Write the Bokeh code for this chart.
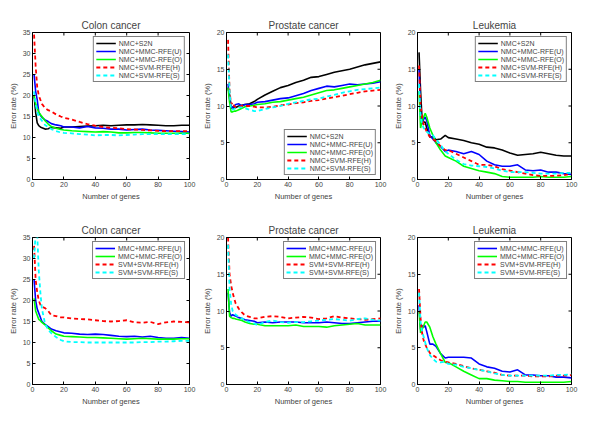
import math
from bokeh.plotting import figure
from bokeh.layouts import gridplot
from bokeh.models import Legend, LegendItem, FixedTicker, Range1d
from bokeh.embed import file_html
from bokeh.resources import INLINE

genes = [1, 2, 3, 4, 5, 6, 8, 10, 12, 15, 18, 20, 25, 30, 35, 40, 45, 50, 55, 60, 65, 70, 75, 80, 85, 90, 95, 100]
x_ticks = [0, 20, 40, 60, 80, 100]
colon_ticks = [0, 5, 10, 15, 20, 25, 30, 35]
other_ticks = [0, 5, 10, 15, 20]

# ---- Colon cancer, NMC classifier ----
colon_nmc_s2n  = [20, 16, 13.5, 12.8, 12.5, 12.3, 12.0, 12.1, 12.4, 12.3, 12.2, 12.5, 12.5, 12.6, 12.7, 12.8, 12.9, 12.8, 12.9, 13.0, 13.0, 13.1, 13.0, 12.9, 12.8, 12.8, 12.9, 12.9]
colon_nmc_mmcU = [25, 21, 19, 16, 15.3, 14.8, 14.2, 13.8, 13.3, 13.0, 12.8, 12.5, 12.5, 12.3, 12.6, 12.3, 12.2, 12.0, 12.0, 11.8, 11.9, 12.0, 11.8, 11.7, 11.6, 11.5, 11.4, 11.3]
colon_nmc_mmcO = [20, 18, 17, 16, 15.5, 15, 14, 13.2, 12.6, 12.2, 11.9, 11.8, 11.6, 11.5, 11.4, 11.3, 11.4, 11.3, 11.1, 11.1, 11.2, 11.2, 11.1, 11.0, 11.0, 11.0, 11.0, 11.0]
colon_nmc_svmH = [34.5, 27, 22, 20, 19, 18, 17, 16.5, 16.2, 15.5, 15, 14.7, 14.3, 13.7, 13.2, 12.8, 12.5, 12.3, 12.2, 12.0, 11.9, 11.8, 11.7, 11.6, 11.5, 11.5, 11.5, 11.5]
colon_nmc_svmS = [21, 18, 16, 15, 14.5, 14, 13, 12.5, 12, 11.5, 11.2, 11.1, 11.0, 10.8, 10.7, 10.5, 10.6, 10.6, 10.5, 10.6, 10.7, 10.8, 10.8, 10.8, 10.8, 10.8, 10.8, 10.8]

# ---- Prostate cancer, NMC classifier ----
pros_nmc_s2n  = [12.5, 11.5, 10.0, 9.8, 9.7, 9.8, 10.0, 10.1, 10.2, 10.3, 10.6, 10.9, 11.5, 12.0, 12.5, 12.8, 13.2, 13.5, 13.9, 14.0, 14.3, 14.6, 14.8, 15.0, 15.3, 15.6, 15.8, 16.0]
pros_nmc_mmcU = [13, 11, 9.7, 9.8, 10.0, 10.2, 10.3, 10.0, 10.2, 10.2, 10.3, 10.5, 10.6, 10.8, 11.0, 11.1, 11.4, 11.7, 12.1, 12.4, 12.7, 12.6, 12.8, 13.0, 12.9, 13.0, 13.1, 13.3]
pros_nmc_mmcO = [12.5, 10.5, 9.2, 9.2, 9.3, 9.3, 9.5, 9.7, 9.9, 10.0, 10.1, 10.2, 10.3, 10.5, 10.6, 10.8, 11.0, 11.2, 11.5, 11.8, 12.1, 12.2, 12.4, 12.6, 12.8, 13.0, 13.2, 13.5]
pros_nmc_svmH = [19, 12, 10.2, 10.5, 10.0, 9.8, 9.9, 10.0, 10.0, 10.0, 9.9, 9.8, 9.8, 9.9, 10.1, 10.2, 10.4, 10.5, 10.7, 10.8, 11.0, 11.2, 11.4, 11.6, 11.8, 12.0, 12.1, 12.2]
pros_nmc_svmS = [17, 12, 9.5, 9.5, 9.6, 9.7, 9.8, 9.8, 9.7, 9.5, 9.3, 9.3, 9.6, 9.8, 10.0, 10.3, 10.5, 10.7, 10.9, 11.0, 11.3, 11.5, 11.8, 12.0, 12.2, 12.3, 12.4, 12.5]

# ---- Leukemia, NMC classifier ----
leuk_nmc_s2n  = [17.3, 12, 8, 7.8, 7.8, 7, 5.8, 5.8, 5.4, 5.5, 6.0, 5.7, 5.5, 5.3, 5.0, 4.8, 4.4, 4.3, 4.0, 3.6, 3.3, 3.4, 3.5, 3.7, 3.5, 3.3, 3.2, 3.2]
leuk_nmc_mmcU = [15, 9, 7.5, 8.2, 8.5, 8, 6, 5.5, 5.0, 4.5, 3.8, 4.0, 3.8, 3.5, 3.8, 3.4, 2.5, 2.0, 1.8, 1.8, 2.0, 1.3, 1.2, 1.3, 1.0, 1.0, 0.8, 0.7]
leuk_nmc_mmcO = [12, 7, 8, 8.5, 9, 8.5, 7, 6, 5, 4, 3.2, 3.0, 2.5, 1.8, 1.5, 1.2, 1.0, 0.8, 0.4, 0.3, 0.3, 0.3, 0.3, 0.4, 0.3, 0.3, 0.3, 0.4]
leuk_nmc_svmH = [15.5, 10, 8.5, 7.5, 7, 6.5, 5.8, 5.5, 5.2, 4.5, 4.0, 4.0, 3.5, 3.0, 2.5, 2.0, 2.0, 1.8, 1.4, 1.2, 1.0, 0.8, 0.6, 0.5, 0.5, 0.5, 0.6, 0.8]
leuk_nmc_svmS = [13, 8.5, 7.5, 7, 6.8, 6.5, 6.2, 6.0, 5.5, 4.7, 3.8, 3.5, 2.7, 2.1, 1.9, 1.8, 1.7, 1.5, 1.2, 1.0, 1.0, 1.0, 0.9, 0.8, 0.8, 0.8, 0.9, 0.9]

# ---- Colon cancer, matched classifiers ----
colon_mmcU = [25, 20, 18, 17, 16, 15, 14.3, 13.8, 13.2, 12.8, 12.5, 12.3, 12.2, 12.0, 11.9, 12.0, 11.9, 11.7, 11.5, 11.4, 11.5, 11.3, 11.5, 11.2, 11.0, 11.0, 11.2, 11.0]
colon_mmcO = [20.5, 17.5, 16.5, 15.5, 15.2, 14.8, 14.2, 13.5, 12.8, 12.0, 11.7, 11.5, 11.4, 11.3, 11.2, 11.2, 11.1, 11.0, 10.9, 10.8, 10.9, 11.0, 10.9, 10.8, 10.8, 10.8, 10.9, 10.9]
colon_svmH = [33, 25, 22, 20, 19, 18.5, 18.2, 17.5, 16.5, 16.3, 16, 16, 15.7, 15.6, 15.5, 15.3, 15.1, 15.0, 15.1, 15.3, 14.8, 14.7, 14.9, 14.4, 14.8, 15.0, 14.9, 14.8]
colon_svmS = [30, 36, 36, 27, 22, 18, 14.5, 13.0, 12.2, 11.3, 10.6, 10.3, 10.1, 10.1, 10.0, 10.0, 10.0, 10.0, 10.0, 10.0, 10.0, 10.1, 10.1, 10.2, 10.2, 10.3, 10.4, 10.4]

# ---- Prostate cancer, matched classifiers ----
pros_mmcU = [12.5, 9.8, 9.3, 9.5, 9.4, 9.3, 9.1, 9.0, 8.8, 8.7, 8.6, 8.4, 8.5, 8.4, 8.5, 8.5, 8.5, 8.4, 8.4, 8.4, 8.5, 8.4, 8.3, 8.3, 8.4, 8.5, 8.6, 8.6]
pros_mmcO = [13, 9.3, 9.1, 9.0, 9.0, 8.9, 8.8, 8.7, 8.5, 8.3, 8.2, 8.2, 8.0, 8.0, 8.0, 8.0, 8.1, 7.9, 7.9, 7.9, 7.8, 8.0, 8.1, 8.2, 8.3, 8.1, 8.1, 8.1]
pros_svmH = [20, 15, 13.5, 12.5, 11.7, 11, 10.3, 9.8, 9.4, 9.2, 9.0, 9.0, 9.2, 9.3, 9.2, 9.0, 9.1, 9.2, 9.1, 8.9, 9.0, 9.3, 9.1, 9.0, 8.9, 8.8, 8.9, 9.0]
pros_svmS = [19, 13, 11, 10, 9.7, 9.5, 9.2, 9.0, 8.7, 8.5, 8.3, 8.1, 8.5, 8.7, 8.5, 8.4, 8.5, 8.5, 8.6, 8.7, 8.8, 8.9, 8.8, 8.7, 8.9, 9.0, 8.8, 8.7]

# ---- Leukemia, matched classifiers ----
leuk_mmcU = [10.8, 7.5, 8.0, 7.8, 8.0, 7.2, 5.5, 5.5, 5.2, 4.2, 3.6, 3.7, 3.7, 3.7, 3.6, 2.8, 2.4, 2.2, 1.8, 1.7, 2.0, 1.3, 1.3, 1.2, 1.2, 1.0, 1.0, 0.9]
leuk_mmcO = [10, 7, 7.5, 8, 8.5, 8.5, 7.8, 6.5, 5.5, 4.2, 3.0, 3.0, 2.4, 1.8, 1.3, 0.8, 0.8, 0.6, 0.5, 0.4, 0.4, 0.3, 0.3, 0.3, 0.3, 0.3, 0.3, 0.4]
leuk_svmH = [13, 9, 7, 6, 5.5, 5, 4.3, 4.0, 3.7, 3.3, 3.1, 3.0, 2.8, 2.5, 2.2, 2.0, 1.8, 1.6, 1.3, 1.2, 1.2, 1.2, 1.1, 1.1, 1.1, 1.2, 1.2, 1.3]
leuk_svmS = [12.5, 8.5, 7.2, 6.5, 5.7, 5, 4, 3.5, 3.1, 3.0, 3.1, 2.8, 2.7, 2.4, 2.2, 2.0, 1.8, 1.5, 1.3, 1.2, 1.2, 1.2, 1.2, 1.2, 1.2, 1.3, 1.3, 1.4]

FONT = "Liberation Sans"
STYLE = {
    "black": ("black", "solid", 1.6),
    "blue": ("#0000ff", "solid", 1.6),
    "green": ("#00ff00", "solid", 1.6),
    "red": ("#ff0000", "4 3", 1.8),
    "cyan": ("#00ffff", "4 3", 1.8),
}


def make_fig(title, ymax, yticks, series, loc, first_col, first_row):
    extra_l = 8 if first_col else 0
    extra_t = 8 if first_row else 0
    p = figure(width=191 + extra_l, height=205 + extra_t, output_backend="svg", toolbar_location=None,
               x_range=Range1d(0, 100), y_range=Range1d(0, ymax),
               min_border_left=24 + extra_l, min_border_right=10,
               min_border_top=24 + extra_t, min_border_bottom=34,
               background_fill_color="white", border_fill_color="white")
    p.title.text = title
    p.title.align = "center"
    p.title.text_font = FONT
    p.title.text_font_size = "10px"
    p.title.text_font_style = "normal"
    p.title.standoff = 3
    p.xgrid.visible = False
    p.ygrid.visible = False
    p.outline_line_color = "black"
    p.outline_line_width = 1

    p.xaxis.ticker = FixedTicker(ticks=x_ticks)
    p.yaxis.ticker = FixedTicker(ticks=yticks)
    p.xaxis.axis_label = "Number of genes"
    p.yaxis.axis_label = "Error rate (%)"
    for ax in (p.xaxis[0], p.yaxis[0]):
        ax.major_tick_in = 3
        ax.major_tick_out = 0
        ax.minor_tick_line_color = None
        ax.major_label_text_font = FONT
        ax.major_label_text_font_size = "7px"
        ax.major_label_standoff = 2
        ax.axis_label_text_font = FONT
        ax.axis_label_text_font_size = "7.5px"
        ax.axis_label_text_font_style = "normal"
        ax.axis_label_standoff = 2
        ax.axis_line_color = "black"

    # box ticks on top and right edges (MATLAB "box on" style)
    p.ray(x=x_ticks, y=[ymax] * len(x_ticks), length=3, length_units="screen",
          angle=-math.pi / 2, line_color="black", line_width=1)
    p.ray(x=[100] * len(yticks), y=yticks, length=3, length_units="screen",
          angle=math.pi, line_color="black", line_width=1)

    items = []
    for label, ys, key in series:
        c, d, w = STYLE[key]
        r = p.line(genes, ys, line_color=c, line_dash=d, line_width=w)
        items.append(LegendItem(label=label, renderers=[r]))

    leg = Legend(items=items, location=loc, margin=4, padding=2, spacing=0,
                 label_height=8, glyph_height=8, glyph_width=20, label_standoff=3,
                 label_text_font=FONT, label_text_font_size="7px",
                 border_line_color="black", border_line_width=1,
                 background_fill_color="white", background_fill_alpha=1)
    p.add_layout(leg)
    return p


f1 = make_fig("Colon cancer", 35, colon_ticks, [
    ("NMC+S2N", colon_nmc_s2n, "black"),
    ("NMC+MMC-RFE(U)", colon_nmc_mmcU, "blue"),
    ("NMC+MMC-RFE(O)", colon_nmc_mmcO, "green"),
    ("NMC+SVM-RFE(H)", colon_nmc_svmH, "red"),
    ("NMC+SVM-RFE(S)", colon_nmc_svmS, "cyan"),
], "top_right", True, True)
f2 = make_fig("Prostate cancer", 20, other_ticks, [
    ("NMC+S2N", pros_nmc_s2n, "black"),
    ("NMC+MMC-RFE(U)", pros_nmc_mmcU, "blue"),
    ("NMC+MMC-RFE(O)", pros_nmc_mmcO, "green"),
    ("NMC+SVM-RFE(H)", pros_nmc_svmH, "red"),
    ("NMC+SVM-RFE(S)", pros_nmc_svmS, "cyan"),
], "bottom_right", False, True)
f3 = make_fig("Leukemia", 20, other_ticks, [
    ("NMC+S2N", leuk_nmc_s2n, "black"),
    ("NMC+MMC-RFE(U)", leuk_nmc_mmcU, "blue"),
    ("NMC+MMC-RFE(O)", leuk_nmc_mmcO, "green"),
    ("NMC+SVM-RFE(H)", leuk_nmc_svmH, "red"),
    ("NMC+SVM-RFE(S)", leuk_nmc_svmS, "cyan"),
], "top_right", False, True)
f4 = make_fig("Colon cancer", 35, colon_ticks, [
    ("MMC+MMC-RFE(U)", colon_mmcU, "blue"),
    ("MMC+MMC-RFE(O)", colon_mmcO, "green"),
    ("SVM+SVM-RFE(H)", colon_svmH, "red"),
    ("SVM+SVM-RFE(S)", colon_svmS, "cyan"),
], "top_right", True, False)
f5 = make_fig("Prostate cancer", 20, other_ticks, [
    ("MMC+MMC-RFE(U)", pros_mmcU, "blue"),
    ("MMC+MMC-RFE(O)", pros_mmcO, "green"),
    ("SVM+SVM-RFE(H)", pros_svmH, "red"),
    ("SVM+SVM-RFE(S)", pros_svmS, "cyan"),
], "top_right", False, False)
f6 = make_fig("Leukemia", 20, other_ticks, [
    ("MMC+MMC-RFE(U)", leuk_mmcU, "blue"),
    ("MMC+MMC-RFE(O)", leuk_mmcO, "green"),
    ("SVM+SVM-RFE(H)", leuk_svmH, "red"),
    ("SVM+SVM-RFE(S)", leuk_svmS, "cyan"),
], "top_right", False, False)

grid = gridplot([[f1, f2, f3], [f4, f5, f6]], toolbar_location=None)

open("out.html", "w").write(file_html(grid, INLINE))
